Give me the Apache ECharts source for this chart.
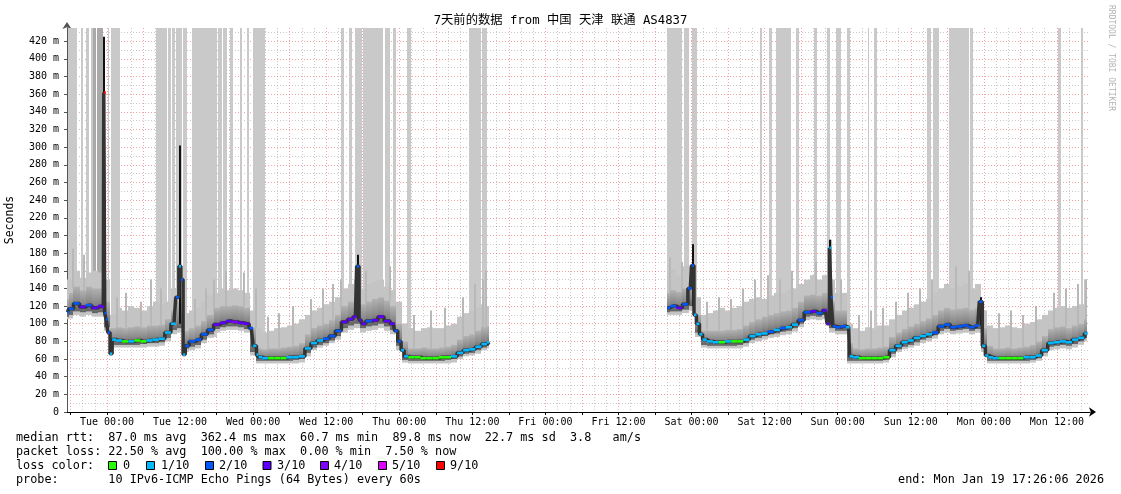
<!DOCTYPE html>
<html><head><meta charset="utf-8">
<script src="https://cdn.jsdelivr.net/npm/echarts@6/dist/echarts.min.js"></script>
<style>html,body{margin:0;padding:0;background:#fff}#c{width:1121px;height:494px}</style>
</head><body><div id="c"></div>
<script>
// ---------- DATA (time in hours relative to Tue 00:00, values in ms) ----------
const titleText = '7天前的数据 from 中国 天津 联通 AS4837';
const dayNames = ['Tue','Wed','Thu','Fri','Sat','Sun','Mon'];
const xLabelHours = [0,12,24,36,48,60,72,84,96,108,120,132,144,156];
const yLabelValues = [0,20,40,60,80,100,120,140,160,180,200,220,240,260,280,300,320,340,360,380,400,420];
const lossColors = ['#26ff00','#00b8ff','#0059ff','#5e00ff','#7e00ff','#dd00ff','#ff0000'];
const lossLabels = ['0','1/10','2/10','3/10','4/10','5/10','9/10'];

// smoke (percentile bands) per sample
const smokeT = [
 -6.5,-6,-5,-4,-3,-2,-1,0,1,2, 3,4,5,6,7,8,9,10,11,12, 13,14,15,16,17,18,19,20,21,22,
 23,24,25,26,27,28,29,30,31,32, 33,34,35,36,37,38,39,40,41,42, 43,44,45,46,47,48,49,50,51,52,
 53,54,55,56,57,58,59,60,61,62, 62.8,
 92,93,94,95,96,97,98,99,100,101, 102,103,104,105,106,107,108,109,110,111,
 112,113,114,115,116,117,118,119,120,121, 122,123,124,125,126,127,128,129,130,131,
 132,133,134,135,136,137,138,139,140,141, 142,143,144,145,146,147,148,149,150,151,
 152,153,154,155,156,157,158,159,160,161];
const smokeLo = [
 105,106,110,108,110,108,108,92,73,73, 73,73,73,73,74,74,75,80,88,90, 68,70,72,78,84,90,92,93,93,92,
 90,64,55,55,55,55,55,55,55,56, 63,70,73,75,78,82,90,93,95,90, 92,93,95,92,88,70,56,55,55,55,
 55,55,55,55,56,60,63,64,66,70, 72,
 110,110,110,112,115,85,73,72,72,72, 72,72,72,74,78,80,82,84,85,87,
 88,91,96,104,105,104,105,90,88,88, 55,55,55,55,55,55,56,62,68,71,
 73,75,78,80,83,88,90,88,89,90, 88,90,68,55,55,55,55,55,55,55,
 56,58,63,70,71,72,71,73,76,80];
const smokeMidLo = [
 108,110,114,113,114,112,113,96,76,76, 76,76,76,77,78,78,79,84,93,95, 72,74,76,82,88,94,96,97,97,96,
 94,68,58,58,58,58,58,58,59,60, 67,73,76,78,81,86,95,98,100,95, 97,98,100,97,93,75,59,58,58,58,
 58,58,58,59,60,63,66,67,70,73, 75,
 113,114,114,116,120,90,76,75,75,75, 75,75,76,78,82,84,86,88,89,91,
 92,95,100,108,109,108,110,95,92,92, 58,58,58,58,58,58,59,66,71,74,
 76,79,82,84,87,92,94,92,93,94, 92,94,72,58,58,58,58,58,58,58,
 59,61,67,74,75,76,75,77,80,84];
const smokeMidHi = [
 128,135,142,138,142,140,140,125,95,96, 95,96,97,96,98,98,99,105,115,125, 92,95,98,103,110,118,120,120,121,120,
 118,95,72,71,72,72,73,74,75,78, 88,95,98,100,104,110,120,125,130,122, 125,128,130,126,120,100,80,72,72,73,
 72,72,73,74,76,82,86,88,92,96, 97,
 135,138,136,140,145,110,92,92,92,92, 93,93,94,98,102,105,108,110,112,114,
 115,118,125,132,133,132,135,125,115,115, 78,72,71,72,72,73,74,85,90,94,
 97,100,103,106,110,115,118,116,117,118, 116,118,95,75,72,72,73,72,73,74,
 76,80,86,94,96,97,95,98,100,105];
const smokeHi = [
 150,150,160,152,158,160,158,150,110,118, 115,120,118,115,120,125,122,125,140,145, 112,115,118,125,132,135,140,138,140,138,
 135,115,95,90,92,95,96,98,100,105, 110,115,118,122,125,130,140,145,150,140, 145,148,150,142,138,125,100,95,92,95,
 96,95,95,98,100,108,112,115,118,122, 120,
 160,162,155,165,165,130,110,112,115,118, 115,118,120,125,128,130,128,132,135,135,
 138,140,145,150,155,150,155,150,135,135, 100,95,92,96,95,98,98,105,110,115,
 118,122,125,128,135,140,145,140,142,145, 140,145,115,98,95,96,98,96,95,100,
 102,105,110,115,118,120,118,120,122,150];

// median rtt with loss class (index into lossColors)
const medT = [
 -6.5,-6,-5,-4,-3,-2,-1,-0.6,-0.45,-0.3, 0,0.3,0.7,1,2,3,4,5,6,7,
 8,9,10,11,11.6,12,12.3,12.7,13,14, 15,16,17,18,19,20,21,22,23,23.7,
 24.3,24.8,25,26,27,28,29,30,31,32, 33,34,35,36,37,38,39,40,40.8,41.2,
 41.6,42,43,44,45,46,47,47.5,48,48.6, 49,50,51,52,53,54,55,56,57,58,
 59,60,61,62,62.8,
 92,93,94,95,95.8,96.2,96.6,97,97.6,98, 99,100,101,102,103,104,105,106,107,108,
 109,110,111,112,113,114,115,116,117,118, 118.5,118.8,119,119.4,120,121,121.8,122.1,123,124,
 125,126,127,128,129,130,131,132,133,134, 135,136,137,138,139,140,141,142,143,143.5,
 144,144.5,145,146,147,148,149,150,151,152, 153,154,155,156,157,158,159,160,161];
const medV = [
 113,117,123,119,121,118,120,119,362,112, 105,90,66,82,81,80,80,81,80,81,
 82,83,90,100,130,165,150,65,75,80, 82,88,93,99,101,103,102,101,100,95,
 75,65,62,61,61,61,61,62,62,63, 72,78,81,83,86,92,102,105,108,165,
 104,100,103,104,108,103,100,92,80,70, 63,62,62,61,61,61,62,62,63,67,
 70,71,74,77,79,
 118,120,118,122,140,166,110,100,88,82, 80,79,79,80,80,80,82,86,88,89,
 91,93,95,96,99,104,113,114,112,115, 100,186,130,97,96,97,96,63,62,61,
 61,61,61,62,70,75,79,81,84,86, 88,90,97,99,96,97,98,96,98,125,
 75,64,62,61,61,61,61,61,62,62, 64,70,78,79,80,79,82,84,89];
const medLoss = [
 2,2,2,3,2,3,3,3,6,2, 2,2,1,1,1,0,1,0,0,1,
 1,1,1,1,2,1,2,1,2,2, 2,2,2,3,3,3,4,3,3,2,
 1,1,1,1,0,0,0,1,1,1, 1,1,1,2,2,2,3,3,3,2,
 3,3,2,3,3,3,3,2,2,1, 1,0,0,0,0,0,0,0,1,1,
 1,1,1,1,1,
 2,2,3,2,2,2,1,1,1,1, 1,1,0,1,0,0,1,1,1,1,
 2,1,2,1,1,2,2,3,2,3, 3,1,2,2,2,2,1,1,1,0,
 0,0,0,0,1,1,1,1,1,1, 1,2,2,2,2,2,2,2,2,2,
 1,1,1,1,0,0,0,0,1,1, 1,1,1,1,1,1,1,1,1];

// tall smoke columns reaching above the graph: [start h, end h, bottom ms, shade]
const tallBars = [
 [-6.4,-4.9,115,0],[-4.3,-4.0,118,0],[-3.45,-3.0,120,0],[-2.6,-2.35,118,0],[-2.25,-1.8,118,1],[-1.7,-0.7,118,1],
 [0.1,0.3,100,0],[0.6,2.1,80,0],[8.0,9.8,82,0],[10.0,10.5,88,0],[10.65,11.15,98,0],[11.3,12.3,110,0],
 [12.45,13.1,75,0],[13.9,18.0,85,0],[18.2,18.85,100,0],[19.0,19.7,100,0],[20.2,20.65,102,0],[21.8,22.1,100,0],
 [22.95,23.3,100,0],[23.9,25.9,65,0],[38.5,39.0,100,0],[39.8,40.2,104,0],[40.8,41.8,108,0],[42.1,45.25,103,0],
 [45.7,46.4,103,0],[46.9,47.4,100,0],[49.35,50.0,63,0],[59.5,61.5,72,0],[61.6,62.45,76,0],
 [92.0,94.45,118,0],[94.75,95.6,120,0],[96.1,96.9,120,0],[107.3,107.6,88,0],[108.7,109.2,90,0],[109.8,112.4,94,0],
 [113.1,113.6,99,0],[116.1,116.6,113,0],[118.2,118.7,113,0],[119.8,120.5,96,0],[121.5,122.0,96,0],[124.9,125.2,61,0],
 [125.9,126.4,61,0],[134.6,135.4,87,0],[135.7,136.6,90,0],[138.2,141.5,97,0],[141.8,142.3,96,0],[156.2,156.6,79,0],
 [160.0,160.3,84,0]];

// single light smoke spikes: [h, bottom ms, top ms]
const lightSpikes = [
 [-5.5,140,185],[-3.8,138,178],[1.6,95,130],[3.2,95,135],[5.6,96,125],[7.3,98,150],[8.8,99,140],[12.0,120,195],
 [14.5,95,128],[16.2,103,140],[17.5,110,150],[19.5,120,160],[22.5,120,158],[24.5,95,140],[26.5,71,108],[28.3,72,112],
 [30.5,74,120],[33.5,88,128],[35.5,98,140],[37.2,104,145],[38.5,110,150],[42.5,122,160],[46.5,126,165],[50.5,72,110],
 [53.2,72,115],[55.5,73,118],[58.5,82,130],[60.5,88,145],[61.8,92,150],[62.3,96,160],
 [92.5,135,175],[94.5,136,170],[96.3,140,190],[98.5,92,125],[100.5,92,130],[102.5,93,128],[104.5,94,140],[106.5,102,150],
 [108.5,108,155],[110.5,112,150],[112.5,115,160],[116.5,133,170],[118.9,130,195],[120.5,115,150],[123.5,72,110],
 [125.5,72,115],[127.5,73,118],[129.5,85,125],[131.5,94,135],[133.5,100,140],[135.5,106,150],[139.5,116,165],
 [141.5,117,160],[146.5,72,112],[148.5,73,115],[150.5,73,110],[152.5,76,120],[155.5,94,135],[157.5,97,140],
 [159.5,98,145],[160.7,100,150]];

// dark (black) smoke spikes: [h, bottom ms, top ms]
const darkSpikes = [[-0.45,112,425],[12.05,100,302],[41.2,105,178],[96.2,120,190],[118.8,110,195],[143.5,98,130]];

const statsLines = [
 'median rtt:  87.0 ms avg  362.4 ms max  60.7 ms min  89.8 ms now  22.7 ms sd  3.8   am/s',
 'packet loss: 22.50 % avg  100.00 % max  0.00 % min  7.50 % now',
 'loss color:',
 'probe:       10 IPv6-ICMP Echo Pings (64 Bytes) every 60s'];
const endText = 'end: Mon Jan 19 17:26:06 2026';
const watermark = 'RRDTOOL / TOBI OETIKER';

// ---------- CHART ----------
const MIN_H = -6.565, MAX_H = 161.435, Y_MAX = 435;
const FONT = '"DejaVu Sans Mono", monospace';
const GAP = 3;

const majorHours = [], minorHours = [];
for (let h = -6; h <= 160; h += 2) { (h % 6 === 0 ? majorHours : minorHours).push(h); }
const yMinor = [];
for (let v = 10; v < Y_MAX; v += 20) yMinor.push(v);

function edgeBefore(T, i) { return (i > 0 && T[i] - T[i-1] <= GAP) ? (T[i-1] + T[i]) / 2 : T[i]; }
function edgeAfter(T, i) { return (i < T.length - 1 && T[i+1] - T[i] <= GAP) ? (T[i] + T[i+1]) / 2 : T[i]; }

const lightItems = [], midItems = [];
for (let i = 0; i < smokeT.length; i++) {
  const a = edgeBefore(smokeT, i), b = edgeAfter(smokeT, i);
  lightItems.push([a, b, smokeLo[i], smokeHi[i]]);
  midItems.push([a, b, smokeMidLo[i], smokeMidHi[i]]);
}
const medLineData = [], medDash = [];
for (let i = 0; i < medT.length; i++) {
  if (i > 0 && medT[i] - medT[i-1] > GAP) medLineData.push([null, null]);
  medLineData.push([medT[i], medV[i]]);
  medDash.push([edgeBefore(medT, i), edgeAfter(medT, i), medV[i], medLoss[i]]);
}

const midFill = new echarts.graphic.LinearGradient(0, 0, 0, 1, [
  { offset: 0, color: '#b2b2b2' }, { offset: 0.55, color: '#8c8c8c' }, { offset: 1, color: '#626262' }]);

function rectRender(fill) {
  return function (params, api) {
    const p0 = api.coord([api.value(0), api.value(3)]);
    const p1 = api.coord([api.value(1), api.value(2)]);
    const x0 = Math.round(p0[0]), x1 = Math.round(p1[0]);
    return { type: 'rect', shape: { x: x0, y: p0[1], width: Math.max(1, x1 - x0), height: p1[1] - p0[1] },
             style: { fill: fill } };
  };
}
function spikeRender(color, w) {
  return function (params, api) {
    const top = api.coord([api.value(0), api.value(2)]);
    const bot = api.coord([api.value(0), api.value(1)]);
    return { type: 'rect', shape: { x: Math.round(top[0] - w / 2), y: top[1], width: w, height: bot[1] - top[1] },
             style: { fill: color } };
  };
}

const chart = echarts.init(document.getElementById('c'));
const graphicEls = [];
const rowY = [438, 452, 466, 480];
statsLines.forEach((t, i) => graphicEls.push({ type: 'text', x: 16, y: rowY[i],
  style: { text: t, font: '11.8px ' + FONT, fill: '#000', align: 'left', verticalAlign: 'middle' } }));
const boxX = [108, 146, 205, 262.5, 320, 378, 436];
const boxLabelX = [123, 161, 219, 277, 334, 392, 450];
lossColors.forEach((c, i) => {
  graphicEls.push({ type: 'rect', shape: { x: boxX[i] + 0.5, y: 461.5, width: 8, height: 8 },
    style: { fill: c, stroke: '#000', lineWidth: 1 } });
  graphicEls.push({ type: 'text', x: boxLabelX[i], y: 466,
    style: { text: lossLabels[i], font: '11.8px ' + FONT, fill: '#000', align: 'left', verticalAlign: 'middle' } });
});
graphicEls.push({ type: 'text', x: 1104, y: 480,
  style: { text: endText, font: '11.8px ' + FONT, fill: '#000', align: 'right', verticalAlign: 'middle' } });
graphicEls.push({ type: 'text', x: 1111, y: 5, rotation: -Math.PI / 2,
  style: { text: watermark, font: '8px ' + FONT, fill: '#b4b4b4', align: 'left', verticalAlign: 'middle' } });

const option = {
  animation: false,
  backgroundColor: '#fff',
  title: { text: titleText, left: 'center', top: 15, padding: 0,
    textStyle: { fontFamily: '"DejaVu Sans Mono","Noto Sans CJK SC"', fontSize: 12.3, fontWeight: 'normal', color: '#000' } },
  grid: { left: 67, right: 31, top: 28, bottom: 82, containLabel: false, outerBoundsMode: 'none' },
  xAxis: [
    { type: 'value', min: MIN_H, max: MAX_H, position: 'bottom',
      axisLine: { show: true, onZero: false, lineStyle: { color: '#000', width: 1 }, symbol: ['none', 'arrow'], symbolSize: [7, 7], symbolOffset: [0, 6] },
      axisTick: { show: true, customValues: majorHours, length: 3, lineStyle: { color: '#000' } },
      axisLabel: { customValues: xLabelHours, margin: 5, fontFamily: FONT, fontSize: 10, color: '#000',
        formatter: v => dayNames[Math.floor(Math.round(v) / 24)] + (Math.round(v) % 24 === 0 ? ' 00:00' : ' 12:00') },
      splitLine: { show: true, lineStyle: { color: 'rgba(235,90,90,0.55)', type: [1, 2], width: 1 } } },
    { type: 'value', min: MIN_H, max: MAX_H, position: 'top',
      axisLine: { show: false }, axisLabel: { show: false },
      axisTick: { show: false, customValues: minorHours },
      splitLine: { show: true, lineStyle: { color: 'rgba(150,150,150,0.5)', type: [1, 2], width: 1 } } }
  ],
  yAxis: [
    { type: 'value', min: 0, max: Y_MAX, position: 'left',
      name: 'Seconds', nameLocation: 'middle', nameGap: 51, nameRotate: 90,
      nameTextStyle: { fontFamily: FONT, fontSize: 11.5, color: '#000' },
      axisLine: { show: true, onZero: false, lineStyle: { color: '#555', width: 1 }, symbol: ['none', 'arrow'], symbolSize: [7, 7], symbolOffset: [0, 6] },
      axisTick: { show: true, customValues: yLabelValues, length: 3, lineStyle: { color: '#555' } },
      axisLabel: { customValues: yLabelValues, margin: 8, fontFamily: FONT, fontSize: 10, color: '#000',
        formatter: v => v === 0 ? '0' : v + ' m' },
      splitLine: { show: true, lineStyle: { color: 'rgba(235,90,90,0.55)', type: [1, 2], width: 1 } } },
    { type: 'value', min: 0, max: Y_MAX, position: 'right',
      axisLine: { show: false }, axisLabel: { show: false },
      axisTick: { show: false, customValues: yMinor },
      splitLine: { show: true, lineStyle: { color: 'rgba(150,150,150,0.5)', type: [1, 2], width: 1 } } }
  ],
  graphic: { elements: graphicEls },
  series: [
    { type: 'custom', name: 'tall', clip: true, z: 2, data: tallBars, encode: { x: [0, 1], y: 2 },
      renderItem: function (params, api) {
        const p0 = api.coord([api.value(0), Y_MAX]);
        const p1 = api.coord([api.value(1), api.value(2)]);
        const x0 = Math.round(p0[0]), x1 = Math.round(p1[0]);
        return { type: 'rect', shape: { x: x0, y: p0[1], width: Math.max(1, x1 - x0), height: p1[1] - p0[1] },
                 style: { fill: api.value(3) ? '#a9a9a9' : '#c9c9c9' } };
      } },
    { type: 'custom', name: 'smokeLight', clip: true, z: 3, data: lightItems, encode: { x: [0, 1], y: [2, 3] },
      renderItem: rectRender('#c4c4c4') },
    { type: 'custom', name: 'spikesLight', clip: true, z: 4, data: lightSpikes, encode: { x: 0, y: [1, 2] },
      renderItem: spikeRender('#b8b8b8', 2) },
    { type: 'custom', name: 'smokeMid', clip: true, z: 5, data: midItems, encode: { x: [0, 1], y: [2, 3] },
      renderItem: rectRender(midFill) },
    { type: 'custom', name: 'spikesDark', clip: true, z: 6, data: darkSpikes, encode: { x: 0, y: [1, 2] },
      renderItem: spikeRender('#111', 2) },
    { type: 'line', name: 'medianShadow', z: 7, data: medLineData, showSymbol: false, symbol: 'none', step: 'middle',
      connectNulls: false, lineStyle: { color: '#333', width: 3.5 }, silent: true },
    { type: 'custom', name: 'median', clip: true, z: 8, data: medDash, encode: { x: [0, 1], y: 2 },
      renderItem: function (params, api) {
        const a = api.coord([api.value(0), api.value(2)]);
        const b = api.coord([api.value(1), api.value(2)]);
        return { type: 'line', shape: { x1: a[0], y1: a[1], x2: Math.max(b[0], a[0] + 2), y2: b[1] },
                 style: { stroke: lossColors[api.value(3)], lineWidth: 2.6 } };
      } }
  ]
};
chart.setOption(option);
</script>
</body></html>
